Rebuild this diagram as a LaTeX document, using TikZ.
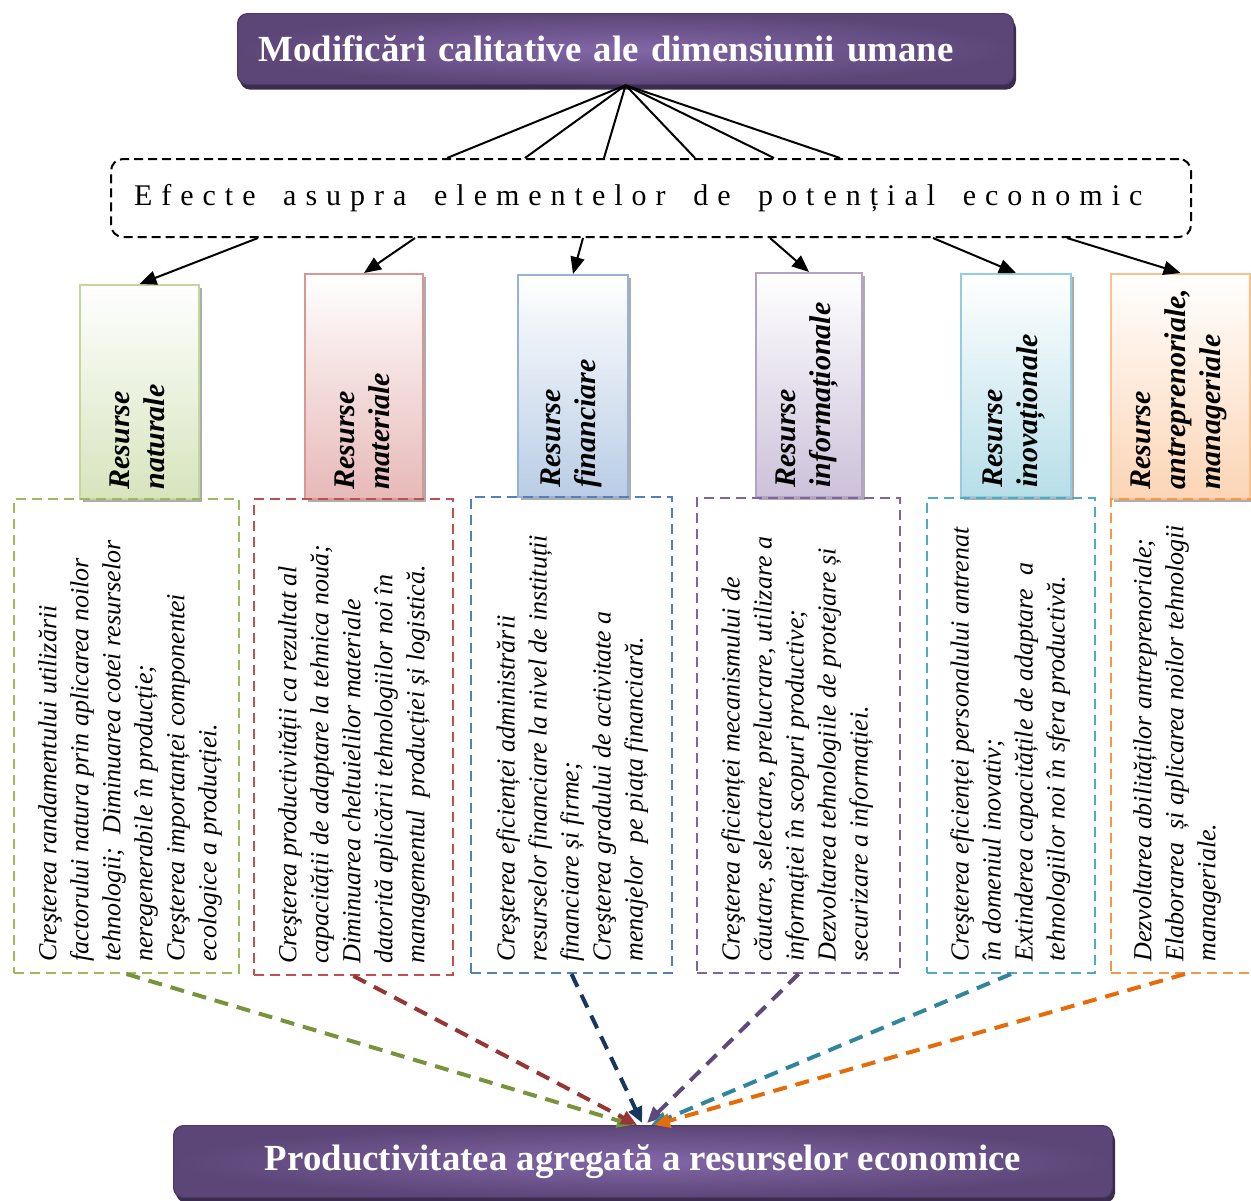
\documentclass[tikz,border=0pt]{standalone}
\usepackage{fontspec}
\setmainfont{Liberation Serif}
\usetikzlibrary{arrows.meta,calc,shadows}

% purple title bars
\definecolor{purpDark}{HTML}{5C4677}
\definecolor{purpLight}{HTML}{8267A7}
\definecolor{purpEdge}{HTML}{4A3964}
\definecolor{purpShadow}{HTML}{3A2C4F}
% resource headers: border / fill
\definecolor{natB}{HTML}{C3D69B}\definecolor{natF}{HTML}{D7E4BD}
\definecolor{matB}{HTML}{D99694}\definecolor{matF}{HTML}{E6B9B8}
\definecolor{finB}{HTML}{95B3D7}\definecolor{finF}{HTML}{B9CDE5}
\definecolor{infB}{HTML}{B3A2C7}\definecolor{infF}{HTML}{CCC1DA}
\definecolor{inoB}{HTML}{93CDDD}\definecolor{inoF}{HTML}{B7DEE8}
\definecolor{antB}{HTML}{FAC090}\definecolor{antF}{HTML}{FCD5B5}
% dashed effect boxes
\definecolor{effGreen}{HTML}{9BBB59}
\definecolor{effRed}{HTML}{C0504D}
\definecolor{effBlue}{HTML}{4F81BD}
\definecolor{effPurple}{HTML}{8064A2}
\definecolor{effTeal}{HTML}{4BACC6}
\definecolor{effOrange}{HTML}{F79646}
% dashed flows into the bottom bar
\definecolor{flowGreen}{HTML}{77933C}
\definecolor{flowRed}{HTML}{953735}
\definecolor{flowNavy}{HTML}{17375E}
\definecolor{flowPurple}{HTML}{5F497A}
\definecolor{flowTeal}{HTML}{31859C}
\definecolor{flowOrange}{HTML}{E46C0A}

% wide word gap for the tracked heading
\newcommand{\wgap}{\hspace{0.92em}}

\tikzset{
  purplebar/.style={rectangle, rounded corners=5pt, inner color=purpLight,
    outer color=purpDark, draw=purpEdge, line width=0.6pt, text=white,
    font=\bfseries\fontsize{18.4}{22}\selectfont, anchor=north west,
    drop shadow={shadow xshift=1.2pt, shadow yshift=-2.5pt, fill=purpShadow, opacity=1}},
  header/.style 2 args={rectangle, draw=#1, top color=white, bottom color=#2,
    line width=1pt, anchor=north west, inner sep=0pt,
    drop shadow={shadow xshift=1.5pt, shadow yshift=-1.5pt, fill=black!40, opacity=0.8}},
  effectbox/.style={rectangle, draw=#1, dash pattern=on 5pt off 3pt,
    line width=1pt, anchor=north west, inner sep=0pt},
  headlabel/.style={rotate=90, anchor=west, align=left, inner sep=0pt,
    font=\bfseries\itshape\fontsize{15}{17.5}\selectfont},
  bodytext/.style={rotate=90, anchor=north west, align=left, inner sep=0pt,
    font=\itshape\fontsize{13}{16}\selectfont},
  fan/.style={line width=1pt, black},
  feed/.style={line width=1pt, black, -{Triangle[length=8.5pt,width=7pt]}},
  flow/.style={draw=#1, line width=2pt, dash pattern=on 7pt off 4.5pt,
    -{Triangle[length=8pt,width=7pt]}}
}

\begin{document}
\begin{tikzpicture}[x=0.5pt,y=-0.5pt]
\useasboundingbox (0,0) rectangle (1251,1200);

% top bar
\node[purplebar, minimum width=387.5pt, minimum height=35.5pt,
      text width=367pt, inner xsep=10.5pt, align=left] (top) at (237,13)
  {Modificări calitative ale dimensiunii umane};

% effects frame
\node[rectangle, draw, dash pattern=on 4.5pt off 2.5pt, line width=1pt,
      rounded corners=6pt, anchor=north west, minimum width=540pt,
      minimum height=39pt, inner xsep=11.5pt, inner ysep=0pt,
      text width=517pt, align=left] (ef) at (110,158)
  {\raisebox{2pt}{\fontsize{15}{18}\selectfont\addfontfeature{LetterSpace=30}Efecte\wgap asupra\wgap elementelor\wgap de\wgap potențial\wgap economic}};

% resource headers
\node[header={natB}{natF}, minimum width=59.5pt, minimum height=107pt] (h1) at (79,284) {};
\node[header={matB}{matF}, minimum width=59pt, minimum height=112.5pt] (h2) at (304,273) {};
\node[header={finB}{finF}, minimum width=55pt, minimum height=111pt] (h3) at (517,274) {};
\node[header={infB}{infF}, minimum width=53pt, minimum height=112pt] (h4) at (755,272) {};
\node[header={inoB}{inoF}, minimum width=55pt, minimum height=111.5pt] (h5) at (960,273) {};
\node[header={antB}{antF}, minimum width=69.5pt, minimum height=112.5pt] (h6) at (1110,273) {};

\node[headlabel] (l1) at ($(h1.south)+(-2,-10)$) {Resurse\\naturale};
\node[headlabel] (l2) at ($(h2.south)+(-2,-10)$) {Resurse\\materiale};
\node[headlabel] (l3) at ($(h3.south)+(-2,-10)$) {Resurse\\financiare};
\node[headlabel] (l4) at ($(h4.south)+(-2,-10)$) {Resurse\\informaționale};
\node[headlabel] (l5) at ($(h5.south)+(-2,-10)$) {Resurse\\inovaționale};
\node[headlabel] (l6) at ($(h6.south)+(-2,-10)$) {Resurse\\antreprenoriale,\\manageriale};

% effect boxes
\node[effectbox=effGreen,  minimum width=112.5pt, minimum height=237pt]   (t1) at (13,498) {};
\node[effectbox=effRed,    minimum width=99.5pt,  minimum height=238pt]   (t2) at (253,498) {};
\node[effectbox=effBlue,   minimum width=100.5pt, minimum height=238pt]   (t3) at (470,496) {};
\node[effectbox=effPurple, minimum width=101.5pt, minimum height=237.5pt] (t4) at (696,497) {};
\node[effectbox=effTeal,   minimum width=84pt,    minimum height=237.5pt] (t5) at (926,497) {};
\node[effectbox=effOrange, minimum width=74pt,    minimum height=237pt]   (t6) at (1110,498) {};

\node[bodytext] (b1) at ($(t1.south west)+(25,-12)$) {Creşterea randamentului utilizării\\
factorului natura prin aplicarea noilor\\
tehnologii;\ \ Diminuarea cotei resurselor\\
neregenerabile în producție;\\
Creşterea importanței componentei\\
ecologice a producției.};
\node[bodytext] (b2) at ($(t2.south west)+(25,-12)$) {Creşterea productivității ca rezultat al\\
capacității de adaptare la tehnica nouă;\\
Diminuarea cheltuielilor materiale\\
datorită aplicării tehnologiilor noi în\\
managementul\ \ producției și logistică.};
\node[bodytext] (b3) at ($(t3.south west)+(26,-12)$) {Creşterea eficienței administrării\\
resurselor financiare la nivel de instituții\\
financiare și firme;\\
Creşterea gradului de activitate a\\
menajelor\ \ pe piața financiară.};
\node[bodytext] (b4) at ($(t4.south west)+(25,-12)$) {Creşterea eficienței mecanismului de\\
căutare, selectare, prelucrare, utilizare a\\
informației în scopuri productive;\\
Dezvoltarea tehnologiile de protejare și\\
securizare a informației.};
\node[bodytext] (b5) at ($(t5.south west)+(24,-12)$) {Creşterea eficienței personalului antrenat\\
în domeniul inovativ;\\
Extinderea capacitățile de adaptare\ \ a\\
tehnologiilor noi în sfera productivă.};
\node[bodytext] (b6) at ($(t6.south west)+(23,-12)$) {Dezvoltarea abilităților antreprenoriale;\\
Elaborarea\ \ și aplicarea noilor tehnologii\\
manageriale.};

% bottom bar
\node[purplebar, minimum width=469.5pt, minimum height=36pt] (bot) at (173,1125)
  {Productivitatea agregată a resurselor economice};

% fan from the top bar to the effects frame
\foreach \dx in {337,415,494,585,664,730}
  \draw[fan] (top.south) -- ($(ef.north west)+(\dx,0)$);

% arrows from the effects frame to the resource headers
\draw[feed] ($(ef.south west)+(148,0)$) -- (h1.north);
\draw[feed] ($(ef.south west)+(305,0)$) -- (h2.north);
\draw[feed] ($(ef.south west)+(473,0)$) -- (h3.north);
\draw[feed] ($(ef.south west)+(660,0)$) -- (h4.north);
\draw[feed] ($(ef.south west)+(823,0)$) -- (h5.north);
\draw[feed] ($(ef.south west)+(957,0)$) -- (h6.north);

% dashed flows into the aggregate productivity bar
\draw[flow=flowGreen]  (t1.south) -- ($(bot.north)+(-10,0)$);
\draw[flow=flowRed]    (t2.south) -- ($(bot.north)+(-6,0)$);
\draw[flow=flowNavy]   (t3.south) -- ($(bot.north)+(-1,-2)$);
\draw[flow=flowPurple] (t4.south) -- ($(bot.north)+(4,-2)$);
\draw[flow=flowTeal]   (t5.south) -- ($(bot.north)+(8,0)$);
\draw[flow=flowOrange] (t6.south) -- ($(bot.north)+(11,0)$);
\end{tikzpicture}
\end{document}
